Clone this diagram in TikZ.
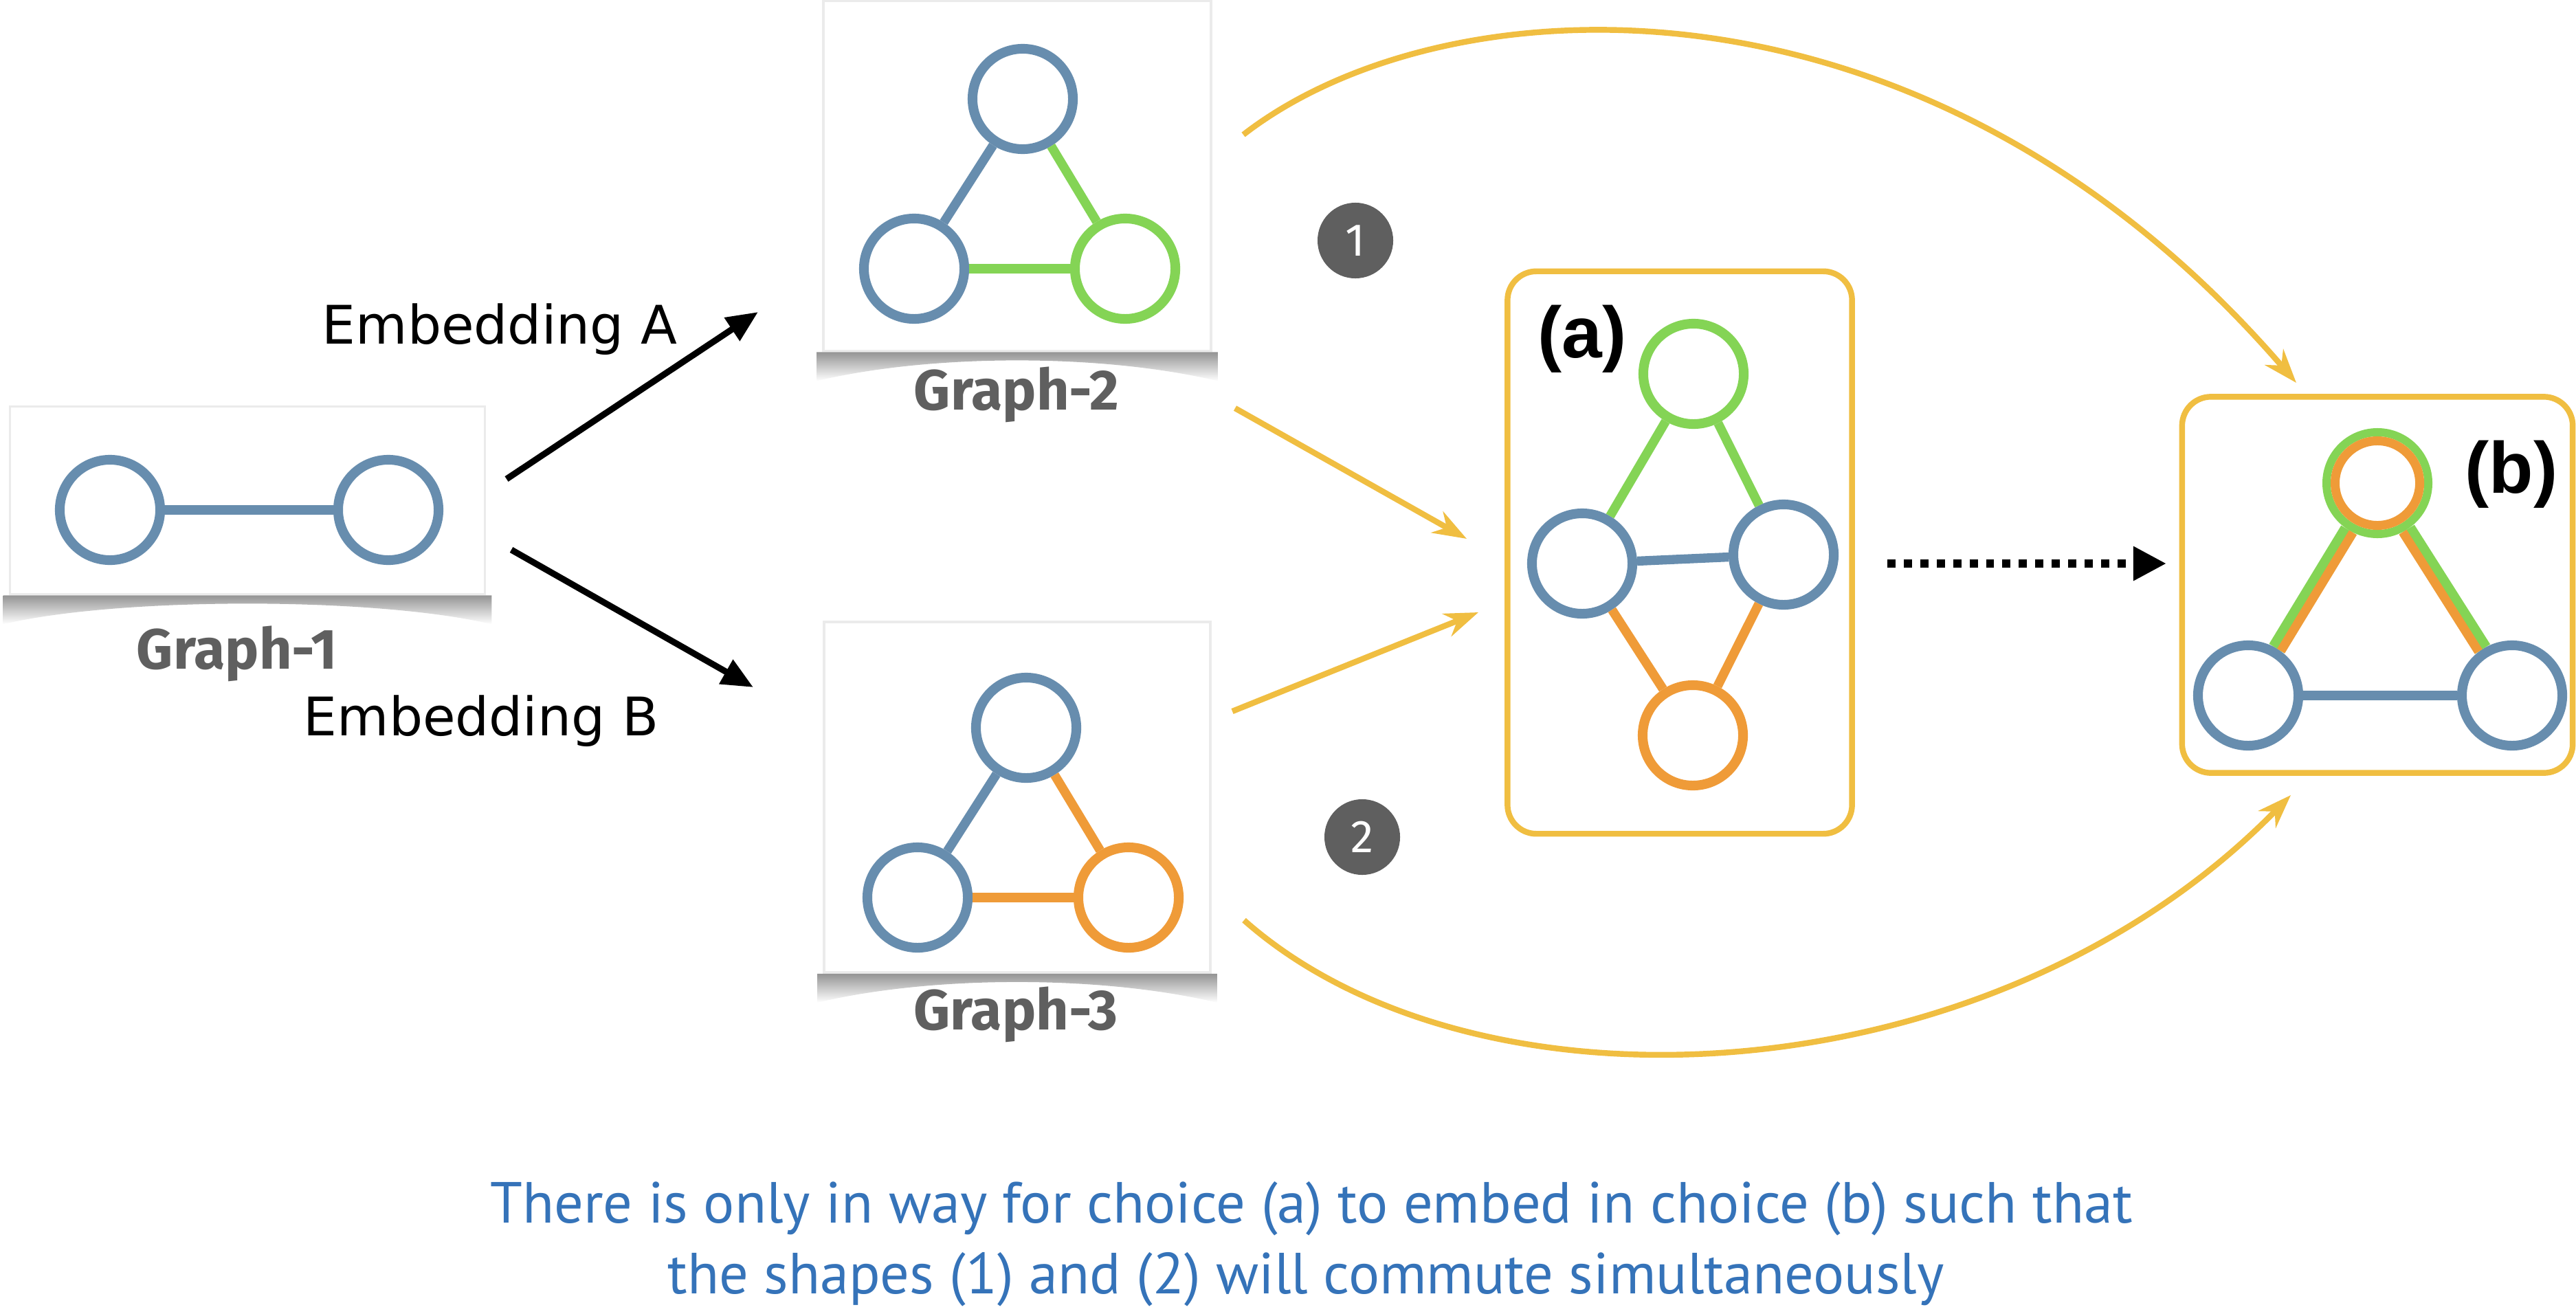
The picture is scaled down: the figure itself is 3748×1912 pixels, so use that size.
\documentclass[tikz,border=0pt]{standalone}
\usepackage{fontspec}
\setmainfont{Fira Sans}
\newfontfamily\choicefont{Liberation Sans}
\newfontfamily\handfont{DejaVu Sans}
\newfontfamily\notefont{PT Sans}
\usetikzlibrary{arrows.meta, positioning}

\definecolor{vblue}{RGB}{103,141,174}
\definecolor{vgreen}{RGB}{132,212,85}
\definecolor{vorange}{RGB}{239,155,56}
\definecolor{chalk}{RGB}{240,190,65}
\definecolor{badge}{RGB}{95,95,95}
\definecolor{notes}{RGB}{53,115,185}

\tikzset{
  vtx/.style={circle, draw=vblue, fill=white, line width=4pt, minimum size=1.46cm, inner sep=0pt},
  link/.style={line width=3.8pt},
  photo/.style={rectangle, fill=white, draw=black!8, line width=1pt, inner sep=0pt},
  caption/.style={anchor=base, text=badge, font=\bfseries\fontsize{23.5pt}{26pt}\selectfont},
  choicebox/.style={rectangle, draw=chalk, line width=2.4pt, rounded corners=0.42cm, inner sep=0pt},
  choicelbl/.style={font=\choicefont\bfseries\fontsize{30pt}{32pt}\selectfont},
  chalkarrow/.style={chalk, line width=2.4pt, -{Stealth[length=14pt, width=10pt]}},
  embedarrow/.style={black, line width=2.6pt, -{Triangle[length=13pt, width=11pt]}},
  numbadge/.style={circle, fill=badge, minimum size=1.1cm, inner sep=0pt, text=white,
    font=\fontsize{19pt}{19pt}\selectfont},
  handlbl/.style={anchor=base, font=\handfont\fontsize{22pt}{24pt}\selectfont},
  notelbl/.style={anchor=base, text=notes, font=\notefont\fontsize{24pt}{28pt}\selectfont}
}

% soft curled shadow under a photo panel
\newcommand{\photoshadow}[1]{%
  \shade[top color=black!42, bottom color=white]
    ([shift={(-8,0)}]#1.south west) -- ([shift={(8,0)}]#1.south east)
    -- ([shift={(8,42)}]#1.south east)
    .. controls ([shift={(-160,2)}]#1.south east) and ([shift={(160,2)}]#1.south west)
    .. ([shift={(-8,42)}]#1.south west) -- cycle;}

\begin{document}
\begin{tikzpicture}[x=0.01cm, y=-0.01cm]
    \useasboundingbox (0,0) rectangle (3748,1912);

    % --- PANELS ---
    \node[photo, minimum width=6.91cm, minimum height=2.73cm] (p1) at (360,728) {};
    \node[photo, minimum width=5.64cm, minimum height=5.09cm] (p2) at (1480,256) {};
    \node[photo, minimum width=5.62cm, minimum height=5.10cm] (p3) at (1480,1160) {};
    \photoshadow{p1}
    \photoshadow{p2}
    \photoshadow{p3}

    % --- GRAPH-1 ---
    \node[vtx] (g1a) at (160,742) {};
    \node[vtx] (g1b) at (565,742) {};
    \draw[link, vblue] (g1a) -- (g1b);
    \node[caption] (cap1) at (345,973) {Graph-1};

    % --- GRAPH-2 ---
    \node[vtx] (g2t) at (1488,144) {};
    \node[vtx] (g2l) at (1330,391) {};
    \node[vtx, draw=vgreen] (g2r) at (1637,391) {};
    \draw[link, vblue]  (g2t) -- (g2l);
    \draw[link, vgreen] (g2t) -- (g2r);
    \draw[link, vgreen] (g2l) -- (g2r);
    \node[caption] (cap2) at (1479,596) {Graph-2};

    % --- GRAPH-3 ---
    \node[vtx] (g3t) at (1493,1059) {};
    \node[vtx] (g3l) at (1335,1306) {};
    \node[vtx, draw=vorange] (g3r) at (1642,1306) {};
    \draw[link, vblue]   (g3t) -- (g3l);
    \draw[link, vorange] (g3t) -- (g3r);
    \draw[link, vorange] (g3l) -- (g3r);
    \node[caption] (cap3) at (1478,1498) {Graph-3};

    % --- EMBEDDINGS ---
    \coordinate (eA0) at (737,697);
    \coordinate (eA1) at (1103,454);
    \coordinate (eB0) at (744,800);
    \coordinate (eB1) at (1096,1000);
    \draw[embedarrow] (eA0) -- (eA1);
    \draw[embedarrow] (eB0) -- (eB1);
    \node[handlbl] (embA) at (727,500) {Embedding A};
    \node[handlbl] (embB) at (700,1070) {Embedding B};

    % --- CHOICE (a) ---
    \node[choicebox, minimum width=5.01cm, minimum height=8.18cm] (boxa) at (2444,804) {};
    \node[choicelbl] (lbla) at (2302,493) {(a)};
    \node[vtx, draw=vgreen]  (at) at (2464,544) {};
    \node[vtx]               (al) at (2302,820) {};
    \node[vtx]               (ar) at (2595,807) {};
    \node[vtx, draw=vorange] (ab) at (2463,1070) {};
    \draw[link, vgreen]  (at) -- (al);
    \draw[link, vgreen]  (at) -- (ar);
    \draw[link, vblue]   (al) -- (ar);
    \draw[link, vorange] (al) -- (ab);
    \draw[link, vorange] (ar) -- (ab);

    % --- CHOICE (b) ---
    \node[choicebox, minimum width=5.68cm, minimum height=5.47cm] (boxb) at (3459,851) {};
    \node[choicelbl] (lblb) at (3654,690) {(b)};
    \node[vtx, draw=vgreen, line width=3.4pt, minimum size=1.48cm] (bt) at (3459,703) {};
    \draw[vorange, line width=3.7pt] (bt.center) circle[radius=0.615cm];
    \node[vtx] (bl) at (3271,1012) {};
    \node[vtx] (br) at (3655,1012) {};
    \draw[vgreen, line width=7.4pt] (bt) -- (bl);
    \draw[vgreen, line width=7.4pt] (bt) -- (br);
    \draw[vorange, line width=3.7pt, transform canvas={shift={(6,3.6)}}] (bt) -- (bl);
    \draw[vorange, line width=3.7pt, transform canvas={shift={(-5.9,3.7)}}] (bt) -- (br);
    \draw[link, vblue] (bl) -- (br);

    % --- COMMUTING SHAPES ---
    \node[numbadge] (n1) at (1972,350) {1};
    \node[numbadge] (n2) at (1982,1218) {2};
    \coordinate (c2s) at (1797,594);
    \coordinate (c2e) at (2134,784);
    \coordinate (c3s) at (1793,1035);
    \coordinate (c3e) at (2151,891);
    \coordinate (t2s) at (1809,196);
    \coordinate (t2e) at (3341,557);
    \coordinate (t3s) at (1810,1339);
    \coordinate (t3e) at (3333,1157);
    \draw[chalkarrow] (c2s) -- (c2e);
    \draw[chalkarrow] (c3s) -- (c3e);
    \draw[chalkarrow] (t2s) .. controls (2100,-30) and (2800,-70) .. (t2e);
    \draw[chalkarrow] (t3s) .. controls (2150,1640) and (2900,1600) .. (t3e);

    % (a) into (b)
    \coordinate (dA) at (2746,820);
    \coordinate (dB) at (3152,820);
    \draw[line width=3.4pt, dash pattern=on 3.4pt off 3.4pt,
          -{Triangle[length=13.7pt, width=13.4pt]}] (dA) -- (dB);

    % --- NOTE ---
    \node[notelbl] (note1) at (1908,1779) {There is only in way for choice (a) to embed in choice (b) such that};
    \node[notelbl] (note2) at (1900,1882) {the shapes (1) and (2) will commute simultaneously};

\end{tikzpicture}
\end{document}
